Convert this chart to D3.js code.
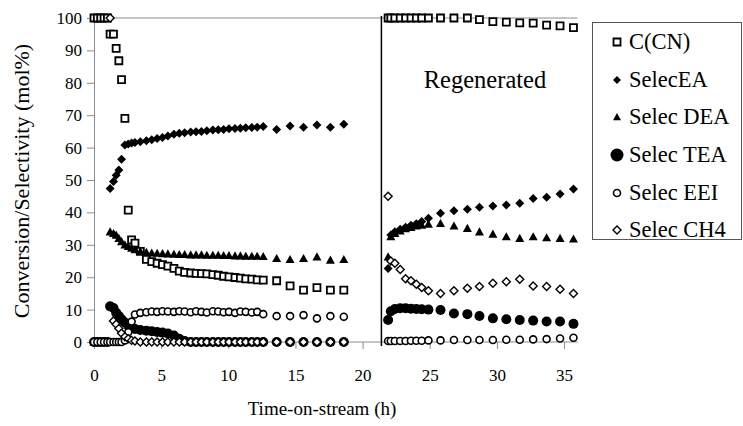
<!DOCTYPE html>
<html>
<head>
<meta charset="utf-8">
<script src="https://cdn.jsdelivr.net/npm/d3@7/dist/d3.min.js"></script>
<style>
  html, body { margin: 0; padding: 0; background: #fff; }
  svg { display: block; }
  text { font-family: "Liberation Serif", "Times New Roman", Times, serif; fill: #000; }
</style>
</head>
<body>
<svg id="chart" width="743" height="426" font-family="Liberation Serif, Times New Roman, serif"></svg>
<script>
// ---------- DATA ----------
const seriesNames = ["C(CN)", "SelecEA", "Selec DEA", "Selec TEA", "Selec EEI", "Selec CH4"];
const xTicks = [0, 5, 10, 15, 20, 25, 30, 35];
const yTicks = [0, 10, 20, 30, 40, 50, 60, 70, 80, 90, 100];
const regenTime = 21.4;
const regenLabel = "Regenerated";
const xTitle = "Time-on-stream (h)";
const yTitle = "Conversion/Selectivity (mol%)";

// first run (fresh catalyst)
const timeRun1 = [0, 0.25, 0.5, 0.75, 1.0, 1.2, 1.45, 1.65, 1.85, 2.05, 2.3, 2.55, 2.8,
  3.05, 3.45, 3.9, 4.3, 4.7, 5.1, 5.5, 5.95, 6.35, 6.75, 7.2, 7.6, 8.0, 8.4, 8.85, 9.25,
  9.65, 10.05, 10.5, 10.9, 11.3, 11.75, 12.15, 12.6,
  13.6, 14.6, 15.6, 16.6, 17.6, 18.6];
const ccnRun1 = [100, 100, 100, 100, 100, 95, 95, 90.6, 86.8, 81, 69, 40.7, 31.5,
  30.5, 28, 25.5, 24.8, 24.3, 23.9, 23.4, 22.7, 21.9, 21.5, 21.3, 21.2, 21.1, 21.0, 20.8, 20.6,
  20.3, 20.1, 19.9, 19.7, 19.5, 19.4, 19.2, 19.1,
  18.9, 17.3, 16.0, 16.8, 16.0, 16.0];
const eaRun1 = [0, 0, 0, 0, 0, 47.4, 49.5, 51.5, 53.1, 56.4, 60.8, 61.1, 61.4,
  61.6, 61.8, 62.1, 62.4, 62.8, 63.1, 63.6, 64.1, 64.4, 64.6, 64.8, 64.9, 65.0, 65.2, 65.4, 65.5,
  65.6, 65.8, 65.9, 66.0, 66.1, 66.2, 66.3, 66.5,
  65.6, 66.7, 66.3, 67.0, 66.3, 67.2];
const deaRun1 = [0, 0, 0, 0, 0, 34, 33.5, 33, 32, 31, 30, 29.5, 29,
  28.5, 28, 27.7, 27.5, 27.4, 27.3, 27.2, 27.1, 27.0, 27.0, 26.9, 26.9, 26.9, 26.8, 26.8, 26.8,
  26.7, 26.7, 26.6, 26.6, 26.5, 26.5, 26.5, 26.4,
  25.8, 25.5, 25.8, 26.3, 25.3, 25.5];
const teaRun1 = [0, 0, 0, 0, 0, 11, 10.5, 9, 8, 7, 6, 5, 4.5,
  4, 3.7, 3.5, 3.3, 3.1, 2.9, 2.6, 2.0, 1.0, 0.3, 0, 0, 0, 0, 0, 0,
  0, 0, 0, 0, 0, 0, 0, 0,
  0, 0, 0, 0, 0, 0];
const eeiRun1 = [0, 0, 0, 0, 0, 0, 0, 0, 0, 0, 0.5, 3, 6.3,
  8.5, 9.0, 9.2, 9.4, 9.3, 9.5, 9.4, 9.3, 9.5, 9.4, 9.2, 9.5, 9.3, 9.1, 9.5, 9.4,
  9.2, 9.3, 9.0, 9.4, 9.3, 9.1, 9.3, 8.6,
  8.0, 8.0, 8.3, 7.3, 8.0, 7.8];
const ch4Run1 = [null, null, null, null, null, 100, 6.5, 5.5, 4.2, 2.7, 1.6, 1.0, 0.5,
  0.3, 0, 0, 0, 0, 0, 0, 0, 0, 0, 0, 0, 0, 0, 0, 0,
  0, 0, 0, 0, 0, 0, 0, 0,
  0, 0, 0, 0, 0, 0];

// second run (regenerated catalyst)
const timeRun2 = [21.9, 22.1, 22.4, 22.8, 23.2, 23.6, 24.0, 24.4, 24.9, 25.8, 26.8, 27.8,
  28.7, 29.7, 30.7, 31.7, 32.7, 33.7, 34.7, 35.7];
const ccnRun2 = [100, 100, 100, 100, 100, 100, 100, 100, 100, 100, 100, 100,
  99.5, 98.9, 98.7, 98.5, 98.4, 97.8, 97.6, 97.0];
const eaRun2 = [22.7, 33, 34, 34.8, 35.4, 36, 36.5, 37.2, 38.2, 39.7, 40.5, 41,
  41.6, 42, 42.3, 42.8, 44.3, 44.7, 45.7, 47.2];
const deaRun2 = [26.3, 32.5, 33.5, 34.3, 35, 35.4, 35.8, 36.1, 36.4, 36.6, 35.8, 35.1,
  34, 33.3, 32.5, 32, 32.5, 32.2, 32, 31.8];
const teaRun2 = [6.8, 9.5, 10.2, 10.4, 10.4, 10.3, 10.2, 10.1, 10.0, 9.9, 8.8, 8.6,
  8.0, 7.3, 7.0, 6.8, 6.6, 6.3, 6.3, 5.6];
const eeiRun2 = [0.3, 0.3, 0.3, 0.3, 0.3, 0.4, 0.4, 0.4, 0.5, 0.5, 0.6, 0.6,
  0.6, 0.6, 0.7, 0.7, 0.8, 0.9, 1.1, 1.3];
const ch4Run2 = [45, 25, 24.3, 22.4, 19.5, 18.9, 17.8, 16.8, 15.8, 15.0, 15.8, 16.6,
  17.1, 18.1, 18.6, 19.4, 17.3, 17.1, 16.3, 15.0];

// ---------- STYLE ----------
const FONT = '"Liberation Serif", "Times New Roman", Times, serif';
const markerStyles = [
  { shape: "square",   size: 7,  fill: "#fff", stroke: "#000", sw: 1.8, legendSize: 7 },
  { shape: "diamond",  size: 9,  fill: "#000", stroke: "none", sw: 0,   legendSize: 8 },
  { shape: "triangle", size: 9,  fill: "#000", stroke: "none", sw: 0,   legendSize: 8 },
  { shape: "circle",   size: 10, fill: "#000", stroke: "none", sw: 0,   legendSize: 13 },
  { shape: "circle",   size: 7,  fill: "#fff", stroke: "#000", sw: 1.6, legendSize: 7 },
  { shape: "diamond",  size: 8,  fill: "#fff", stroke: "#000", sw: 1.4, legendSize: 8 }
];

const run1 = [ccnRun1, eaRun1, deaRun1, teaRun1, eeiRun1, ch4Run1];
const run2 = [ccnRun2, eaRun2, deaRun2, teaRun2, eeiRun2, ch4Run2];

const series = seriesNames.map((name, i) => ({
  name,
  style: markerStyles[i],
  points: timeRun1.map((t, j) => ({ t, v: run1[i][j] }))
    .concat(timeRun2.map((t, j) => ({ t, v: run2[i][j] })))
    .filter(p => p.v !== null)
}));

// ---------- CHART ----------
const svg = d3.select("#chart");
const x = d3.scaleLinear().domain([0, 36]).range([94, 577.5]);
const y = d3.scaleLinear().domain([0, 100]).range([342, 18]);
const axisColor = "#8c8c8c";

function shapePath(shape, s) {
  const h = s / 2;
  if (shape === "square") return `M${-h},${-h}H${h}V${h}H${-h}Z`;
  if (shape === "diamond") return `M0,${-h}L${h},0L0,${h}L${-h},0Z`;
  if (shape === "triangle") return `M0,${-h}L${h},${h * 0.8}L${-h},${h * 0.8}Z`;
  return null;
}
function drawMarker(g, st, cx, cy, size) {
  if (st.shape === "circle") {
    g.append("circle").attr("cx", cx).attr("cy", cy).attr("r", size / 2)
      .attr("fill", st.fill).attr("stroke", st.stroke).attr("stroke-width", st.sw);
  } else {
    g.append("path").attr("d", shapePath(st.shape, size))
      .attr("transform", `translate(${cx},${cy})`)
      .attr("fill", st.fill).attr("stroke", st.stroke).attr("stroke-width", st.sw)
      .attr("stroke-linejoin", "miter");
  }
}

// top border line at 100
svg.append("line").attr("x1", x(0)).attr("x2", x(36)).attr("y1", y(100)).attr("y2", y(100))
  .attr("stroke", axisColor).attr("stroke-width", 1);

// Y axis
const yAxis = svg.append("g").attr("transform", `translate(${x(0)},0)`)
  .call(d3.axisLeft(y).tickValues(yTicks).tickSize(7).tickPadding(5).tickFormat(d3.format("d")));
yAxis.attr("font-family", null);
yAxis.select(".domain").attr("stroke", axisColor);
yAxis.selectAll(".tick line").attr("stroke", axisColor);
yAxis.selectAll(".tick text").style("font-family", FONT).style("font-size", "17px").attr("fill", "#000");

// X axis
const xAxis = svg.append("g").attr("transform", `translate(0,${y(0)})`)
  .call(d3.axisBottom(x).tickValues(xTicks).tickSize(7).tickPadding(20).tickFormat(d3.format("d")));
xAxis.attr("font-family", null);
xAxis.select(".domain").attr("stroke", axisColor).attr("d", `M${x(0)},0H${x(36)}`);
xAxis.selectAll(".tick line").attr("stroke", axisColor);
xAxis.selectAll(".tick text").style("font-family", FONT).style("font-size", "17px").attr("fill", "#000");

// regeneration divider
svg.append("line").attr("x1", x(regenTime)).attr("x2", x(regenTime))
  .attr("y1", y(100) - 2).attr("y2", y(0) + 4)
  .attr("stroke", "#000").attr("stroke-width", 1.5);

svg.append("text").attr("x", 485).attr("y", 88).attr("text-anchor", "middle")
  .style("font-family", FONT).style("font-size", "24.5px").text(regenLabel);

// markers
const plot = svg.append("g");
series.forEach(s => {
  const g = plot.append("g");
  s.points.forEach(p => drawMarker(g, s.style, x(p.t), y(p.v), s.style.size));
});

// axis titles
svg.append("text").attr("x", 322).attr("y", 415).attr("text-anchor", "middle")
  .style("font-family", FONT).style("font-size", "19px").text(xTitle);
svg.append("text").attr("transform", "translate(29,181) rotate(-90)").attr("text-anchor", "middle")
  .style("font-family", FONT).style("font-size", "22px").text(yTitle);

// legend
const lg = svg.append("g");
lg.append("rect").attr("x", 592.5).attr("y", 22.5).attr("width", 149).attr("height", 217)
  .attr("fill", "#fff").attr("stroke", "#555").attr("stroke-width", 1);
const legendY = [42, 80, 117, 155, 193, 230];
series.forEach((s, i) => {
  drawMarker(lg, s.style, 617, legendY[i], s.style.legendSize);
  lg.append("text").attr("x", 629).attr("y", legendY[i] + 7)
    .style("font-family", FONT).style("font-size", "22.5px").text(s.name);
});
</script>
</body>
</html>
